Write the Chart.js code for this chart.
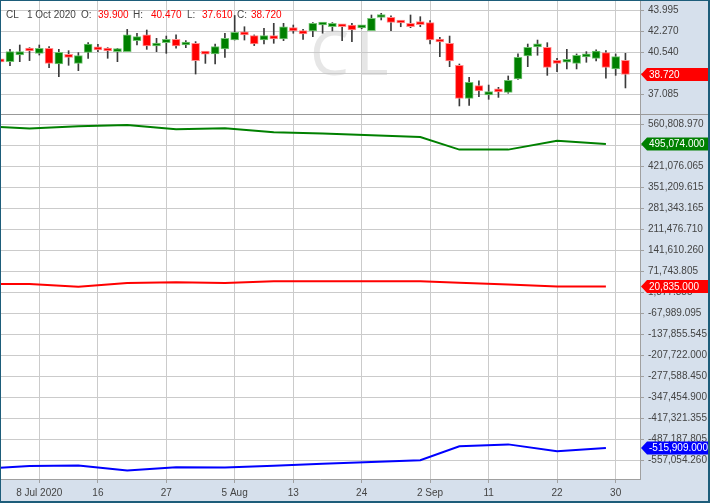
<!DOCTYPE html>
<html>
<head>
<meta charset="utf-8">
<script src="https://cdn.jsdelivr.net/npm/chart.js@4.4.1/dist/chart.umd.min.js"></script>
<style>
  html, body { margin: 0; padding: 0; background: #fff; }
  #wrap { position: relative; width: 710px; height: 503px; overflow: hidden; }
  #top { position: absolute; left: 0; top: 0; }
  #bottom { position: absolute; left: 0; top: 114px; }
  #frame { position: absolute; left: 0; top: 0; right: 0; bottom: 0; border-style: solid; border-color: #1d5d7a; border-width: 1px 2px 2px 1px; pointer-events: none; }
</style>
</head>
<body>
<div id="wrap">
  <canvas id="top" width="710" height="114"></canvas>
  <canvas id="bottom" width="710" height="389"></canvas>
  <div id="frame"></div>
</div>
<script>
// trading days (30 Jun is just left of the view)
const dates = ['30 Jun',
  '1 Jul','2 Jul','6 Jul','7 Jul','8 Jul','9 Jul','10 Jul','13 Jul','14 Jul','15 Jul','16 Jul','17 Jul',
  '20 Jul','21 Jul','22 Jul','23 Jul','24 Jul','27 Jul','28 Jul','29 Jul','30 Jul','31 Jul',
  '3 Aug','4 Aug','5 Aug','6 Aug','7 Aug','10 Aug','11 Aug','12 Aug','13 Aug','14 Aug','17 Aug','18 Aug',
  '19 Aug','20 Aug','21 Aug','24 Aug','25 Aug','26 Aug','27 Aug','28 Aug','31 Aug',
  '1 Sep','2 Sep','3 Sep','4 Sep','8 Sep','9 Sep','10 Sep','11 Sep','14 Sep','15 Sep','16 Sep','17 Sep',
  '18 Sep','21 Sep','22 Sep','23 Sep','24 Sep','25 Sep','28 Sep','29 Sep','30 Sep','1 Oct'];

const opens  = [null, 39.80,39.78,40.33,40.70,40.47,40.89,39.59,40.39,39.64,40.55,40.94,40.70,40.61,40.61,41.52,41.99,41.08,41.35,41.63,41.16,41.30,40.44,
  40.42,40.83,41.57,42.21,41.93,41.57,41.93,41.66,42.59,42.35,42.32,42.81,42.67,42.81,42.81,42.57,42.35,43.43,43.45,43.02,42.95,
  42.88,43.01,41.63,41.30,39.48,36.75,37.80,37.03,37.32,37.25,38.35,40.25,41.00,40.97,39.68,39.73,39.64,40.18,40.06,40.53,39.18,39.90];
const highs  = [null, 39.90,40.80,41.16,40.94,41.16,41.02,40.80,40.69,40.53,41.35,41.21,40.94,40.88,42.45,42.13,42.40,41.71,41.90,41.99,41.52,41.44,40.55,
  41.24,42.13,43.60,42.67,41.99,42.54,42.95,42.95,42.81,42.45,43.01,43.03,43.01,42.85,42.95,42.75,43.64,43.78,43.58,43.17,43.64,
  43.50,43.17,41.79,41.90,39.59,38.49,38.19,37.85,37.66,38.60,40.42,41.24,41.57,41.35,40.06,40.80,40.42,40.61,40.75,40.69,40.42,40.47];
const lows   = [null, 39.70,39.45,39.78,39.87,40.33,39.29,38.54,39.48,39.04,40.06,40.61,40.06,39.78,40.61,41.16,40.80,40.61,40.47,40.89,40.94,38.76,39.64,
  39.59,40.14,41.57,41.57,41.11,41.24,41.30,41.52,42.13,41.63,41.85,42.13,42.32,41.52,41.44,42.50,42.35,43.23,42.35,42.67,42.59,
  42.67,41.24,40.20,39.37,36.12,36.17,36.89,36.67,36.83,37.17,38.32,39.37,40.31,38.65,38.96,39.18,39.18,39.73,39.84,38.41,38.65,37.61];
const closes = [null, 39.76,40.61,40.61,40.66,40.89,39.64,40.55,40.14,40.28,41.24,40.75,40.66,40.80,41.99,41.85,41.08,41.30,41.63,41.08,41.30,39.87,40.40,
  41.02,41.71,42.21,41.99,41.24,41.93,41.66,42.67,42.32,42.07,42.95,42.95,42.95,42.67,42.40,42.61,43.36,43.47,43.03,42.98,42.67,
  42.84,41.57,41.41,39.84,36.75,38.08,37.36,37.30,37.28,38.24,40.14,40.97,41.13,39.31,39.64,39.98,40.31,40.22,40.66,39.31,40.20,38.72];

// weekly net positions (Tuesdays)
const cotDates   = ['30 Jun','7 Jul','14 Jul','21 Jul','28 Jul','4 Aug','11 Aug','18 Aug','25 Aug','1 Sep','8 Sep','15 Sep','22 Sep','29 Sep'];
const largeSpec  = [553200, 546500, 554000, 558500, 544500, 547800, 534500, 529900, 524200, 518200, 476600, 476600, 506200, 495074];
const smallSpec  = [29500, 29500, 20500, 32800, 35500, 33000, 38500, 38500, 38500, 38400, 33500, 27500, 21000, 20835];
const commercial = [-583300, -576000, -574500, -591300, -580000, -580800, -575000, -568400, -562700, -556600, -510100, -504100, -527200, -515909];

const xTickDates  = ['8 Jul','16 Jul','27 Jul','5 Aug','13 Aug','24 Aug','2 Sep','11 Sep','22 Sep','30 Sep'];
const xTickLabels = ['8 Jul 2020','16','27','5 Aug','13','24','2 Sep','11','22','30'];
const priceTicks = [43.995, 42.270, 40.540, 38.813, 37.085];
const cotTicks = [560808.970, 490942.520, 421076.065, 351209.615, 281343.165, 211476.710, 141610.260, 71743.805, 1877.355,
  -67989.095, -137855.545, -207722.000, -277588.450, -347454.900, -417321.355, -487187.805, -557054.260];

const X_MIN = 0.9775, X_MAX = 66.49;
const AXIS_BG = '#d6e0ec';
const GRID = '#cbcbcb';
const EDGE = '#a0a0a0';
const FONT = "'Liberation Sans', Arial, sans-serif";

Chart.defaults.font.family = FONT;
Chart.defaults.font.size = 10;
Chart.defaults.color = '#444';
Chart.defaults.animation = false;
Chart.defaults.events = [];

const idx = dates.map((d, i) => i).filter(i => opens[i] !== null);

function noPad(s) {
  s.paddingTop = 0; s.paddingBottom = 0; s.paddingLeft = 0; s.paddingRight = 0;
}

function xScale(showLabels) {
  return {
    type: 'linear', min: X_MIN, max: X_MAX, offset: false, bounds: 'data',
    grid: { color: GRID, offset: false, drawTicks: showLabels, tickLength: 4, tickColor: EDGE },
    border: { display: showLabels, color: EDGE },
    ticks: {
      display: showLabels, autoSkip: false, maxRotation: 0, padding: 4,
      callback: (v, i) => xTickLabels[i]
    },
    afterBuildTicks: s => { s.ticks = xTickDates.map(d => ({ value: dates.indexOf(d) })); },
    afterFit: s => { s.height = showLabels ? 24 : 0; noPad(s); }
  };
}

function yScale(min, max, ticks, fmt) {
  return {
    position: 'right', min: min, max: max, bounds: 'data', beginAtZero: false,
    grid: { color: GRID, tickLength: 4, tickColor: EDGE },
    border: { color: EDGE },
    ticks: { autoSkip: false, padding: 4, callback: fmt },
    afterBuildTicks: s => { s.ticks = ticks.map(v => ({ value: v })); },
    afterFit: s => { s.width = 70; noPad(s); }
  };
}

function drawTag(ctx, left, y, text, color) {
  ctx.save();
  ctx.fillStyle = color;
  ctx.beginPath();
  ctx.moveTo(left + 1, y);
  ctx.lineTo(left + 7, y - 6.5);
  ctx.lineTo(710, y - 6.5);
  ctx.lineTo(710, y + 6.5);
  ctx.lineTo(left + 7, y + 6.5);
  ctx.closePath();
  ctx.fill();
  ctx.fillStyle = '#fff';
  ctx.font = '10px ' + FONT;
  ctx.textAlign = 'left';
  ctx.textBaseline = 'middle';
  ctx.fillText(text, left + 9, y + 0.5);
  ctx.restore();
}

const panelBg = {
  id: 'panelBg',
  beforeDraw(chart) {
    const { ctx, chartArea: a } = chart;
    ctx.save();
    ctx.fillStyle = AXIS_BG;
    ctx.fillRect(0, 0, chart.width, chart.height);
    ctx.fillStyle = '#fff';
    ctx.fillRect(a.left, a.top, a.right - a.left, a.bottom - a.top);
    ctx.restore();
  }
};

const fmtCot = v => v.toLocaleString('en-US', { minimumFractionDigits: 3, maximumFractionDigits: 3 });

// ---- price pane ----
new Chart(document.getElementById('top'), {
  type: 'bar',
  data: {
    datasets: [{
      label: 'wick',
      data: idx.map(i => ({ x: i, y: [lows[i], highs[i]] })),
      backgroundColor: '#3a3a3a',
      barThickness: 1,
      grouped: false,
      order: 2
    }, {
      label: 'body',
      data: idx.map(i => ({ x: i, y: [opens[i], closes[i]] })),
      backgroundColor: idx.map(i => closes[i] >= opens[i] ? '#008000' : '#ff0000'),
      borderColor: idx.map(i => closes[i] >= opens[i] ? '#74c474' : '#ff8c8c'),
      borderWidth: 1,
      borderSkipped: false,
      barThickness: 8,
      minBarLength: 3,
      grouped: false,
      order: 1
    }]
  },
  options: {
    responsive: false,
    layout: { padding: 0 },
    plugins: { legend: { display: false }, tooltip: { enabled: false } },
    scales: {
      x: xScale(false),
      y: yScale(35.456, 44.879, priceTicks, v => v.toFixed(3))
    }
  },
  plugins: [panelBg, {
    id: 'priceExtras',
    beforeDatasetsDraw(chart) {
      const ctx = chart.ctx;
      ctx.save();
      ctx.fillStyle = 'rgba(195,195,195,0.42)';
      ctx.font = "62px 'Noto Sans', sans-serif";
      ctx.textBaseline = 'alphabetic';
      ctx.fillText('C', 310, 75);
      ctx.fillText('L', 356, 75);
      ctx.restore();
    },
    afterDraw(chart) {
      const ctx = chart.ctx;
      const last = closes.length - 1;
      ctx.save();
      ctx.font = '10px ' + FONT;
      ctx.textBaseline = 'middle';
      const parts = [
        ['CL', 6, '#444'], [dates[last] + ' 2020', 27, '#444'],
        ['O:', 81, '#444'], [opens[last].toFixed(3), 98, '#ff0000'],
        ['H:', 133, '#444'], [highs[last].toFixed(3), 151, '#ff0000'],
        ['L:', 187, '#444'], [lows[last].toFixed(3), 202, '#ff0000'],
        ['C:', 237, '#444'], [closes[last].toFixed(3), 251, '#ff0000']
      ];
      parts.forEach(([t, x, c]) => { ctx.fillStyle = c; ctx.fillText(t, x, 15); });
      ctx.restore();
      const ys = chart.scales.y;
      drawTag(ctx, ys.left, ys.getPixelForValue(closes[last]), closes[last].toFixed(3), '#ff0000');
    }
  }]
});

// ---- positions pane ----
const series = (vals) => cotDates.map((d, i) => ({ x: dates.indexOf(d), y: vals[i] }));

new Chart(document.getElementById('bottom'), {
  type: 'line',
  data: {
    datasets: [
      { data: series(largeSpec), borderColor: '#008000', borderWidth: 2, pointRadius: 0, tension: 0 },
      { data: series(smallSpec), borderColor: '#ff0000', borderWidth: 2, pointRadius: 0, tension: 0 },
      { data: series(commercial), borderColor: '#0000ff', borderWidth: 2, pointRadius: 0, tension: 0 }
    ]
  },
  options: {
    responsive: false,
    layout: { padding: 0 },
    plugins: { legend: { display: false }, tooltip: { enabled: false } },
    scales: {
      x: xScale(true),
      y: yScale(-619267, 595077, cotTicks, fmtCot)
    }
  },
  plugins: [panelBg, {
    id: 'cotExtras',
    afterDraw(chart) {
      const ctx = chart.ctx;
      ctx.save();
      ctx.strokeStyle = '#999';
      ctx.lineWidth = 1;
      ctx.beginPath();
      ctx.moveTo(0, 0.5);
      ctx.lineTo(710, 0.5);
      ctx.stroke();
      ctx.restore();
      const ys = chart.scales.y;
      const n = cotDates.length - 1;
      drawTag(ctx, ys.left, ys.getPixelForValue(largeSpec[n]), fmtCot(largeSpec[n]), '#008000');
      drawTag(ctx, ys.left, ys.getPixelForValue(smallSpec[n]), fmtCot(smallSpec[n]), '#ff0000');
      drawTag(ctx, ys.left, ys.getPixelForValue(commercial[n]), fmtCot(commercial[n]), '#0000ff');
    }
  }]
});
</script>
</body>
</html>
